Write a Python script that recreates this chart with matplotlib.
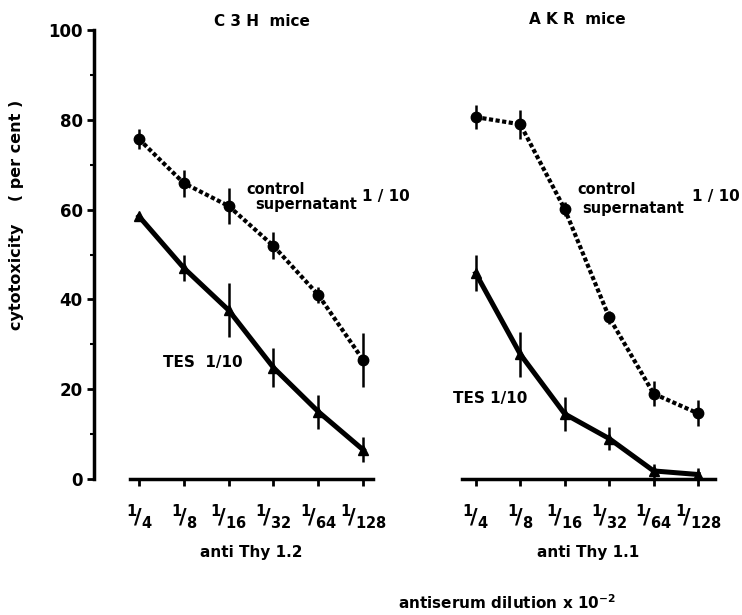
import matplotlib.pyplot as plt
import numpy as np

# dilutions of antiserum
dilutions = ['1/4', '1/8', '1/16', '1/32', '1/64', '1/128']
dil_labels = [r'$^{1}\!/_{%s}$' % d.split('/')[1] for d in dilutions]

# C3H mice, anti Thy 1.2
c3h_control = [75.7, 65.9, 60.8, 51.9, 41.0, 26.5]
c3h_control_err = [2.2, 3.0, 4.0, 3.0, 1.8, 6.0]
c3h_tes = [58.5, 47.0, 37.6, 24.8, 15.0, 6.5]
c3h_tes_err = [0.8, 3.0, 6.0, 4.3, 3.8, 2.8]

# AKR mice, anti Thy 1.1
akr_control = [80.6, 79.0, 60.1, 36.0, 19.0, 14.6]
akr_control_err = [2.7, 3.2, 1.5, 1.5, 2.8, 2.9]
akr_tes = [45.8, 27.8, 14.5, 9.0, 1.8, 1.0]
akr_tes_err = [4.0, 5.0, 3.8, 2.5, 1.5, 1.5]

plt.rcParams['font.family'] = 'DejaVu Sans'
plt.rcParams['font.weight'] = 'bold'
plt.rcParams['axes.labelweight'] = 'bold'
plt.rcParams['mathtext.default'] = 'bf'

fig = plt.figure(figsize=(7.42, 6.15), dpi=100)
ax1 = fig.add_axes([130 / 742, 136 / 615, 243 / 742, 449 / 615])
ax2 = fig.add_axes([462 / 742, 136 / 615, 253 / 742, 449 / 615])

x = np.arange(len(dilutions))


def draw(ax, ctrl, ctrl_err, tes, tes_err):
    ax.errorbar(x, ctrl, yerr=ctrl_err, color='black', lw=3.0,
                linestyle=(0, (1, 0.6)), dash_capstyle='butt',
                marker='o', ms=7.5, elinewidth=1.8, capsize=0, zorder=3)
    ax.errorbar(x, tes, yerr=tes_err, color='black', lw=3.6,
                linestyle='-', marker='^', ms=7, elinewidth=1.8,
                capsize=0, zorder=3)
    ax.set_ylim(0, 100)
    ax.set_xticks(x)
    ax.set_xticklabels(dil_labels, fontsize=15)
    ax.tick_params(axis='x', direction='out', length=5, width=2, pad=12)
    for s in ['top', 'right']:
        ax.spines[s].set_visible(False)
    ax.spines['bottom'].set_linewidth(2.5)
    ax.patch.set_visible(False)


draw(ax1, c3h_control, c3h_control_err, c3h_tes, c3h_tes_err)
draw(ax2, akr_control, akr_control_err, akr_tes, akr_tes_err)
ax1.set_xlim(-0.2, 5.22)
ax2.set_xlim(-0.31, 5.38)

# y axis only on the left panel, set off from the x axis
ax1.spines['left'].set_position(('outward', 26))
ax1.spines['left'].set_linewidth(2.5)
ax1.set_yticks([0, 20, 40, 60, 80, 100])
ax1.set_yticks([10, 30, 50, 70, 90], minor=True)
ax1.tick_params(axis='y', which='major', direction='out', length=5, width=2,
                labelsize=12, pad=3)
ax1.tick_params(axis='y', which='minor', direction='out', length=3, width=1.5)

ax2.spines['left'].set_visible(False)
ax2.tick_params(axis='y', left=False, labelleft=False)

ax1.set_xlabel('anti Thy 1.2', fontsize=11, fontweight='bold', labelpad=10)
ax2.set_xlabel('anti Thy 1.1', fontsize=11, fontweight='bold', labelpad=10)

fig.text(17 / 742, 1 - 215 / 615, 'cytotoxicity    ( per cent )', rotation=90,
         ha='center', va='center', fontsize=11.5)

fig.text(262 / 742, 1 - 22 / 615, 'C 3 H  mice', ha='center', va='center', fontsize=11)
fig.text(577 / 742, 1 - 20 / 615, 'A K R  mice', ha='center', va='center', fontsize=11)

# curve labels
fig.text(246 / 742, 1 - 190 / 615, 'control', ha='left', va='center', fontsize=10.5)
fig.text(255 / 742, 1 - 205 / 615, 'supernatant', ha='left', va='center', fontsize=10.5)
fig.text(362 / 742, 1 - 196 / 615, '1 / 10', ha='left', va='center', fontsize=11)
fig.text(163 / 742, 1 - 362 / 615, 'TES  1/10', ha='left', va='center', fontsize=11)

fig.text(577 / 742, 1 - 190 / 615, 'control', ha='left', va='center', fontsize=10.5)
fig.text(582 / 742, 1 - 209 / 615, 'supernatant', ha='left', va='center', fontsize=10.5)
fig.text(692 / 742, 1 - 197 / 615, '1 / 10', ha='left', va='center', fontsize=11)
fig.text(453 / 742, 1 - 398 / 615, 'TES 1/10', ha='left', va='center', fontsize=11)

fig.text(507 / 742, 1 - 603 / 615, r'antiserum dilution x 10$^{-2}$',
         ha='center', va='center', fontsize=11)

fig.savefig('out.png', dpi=100)
